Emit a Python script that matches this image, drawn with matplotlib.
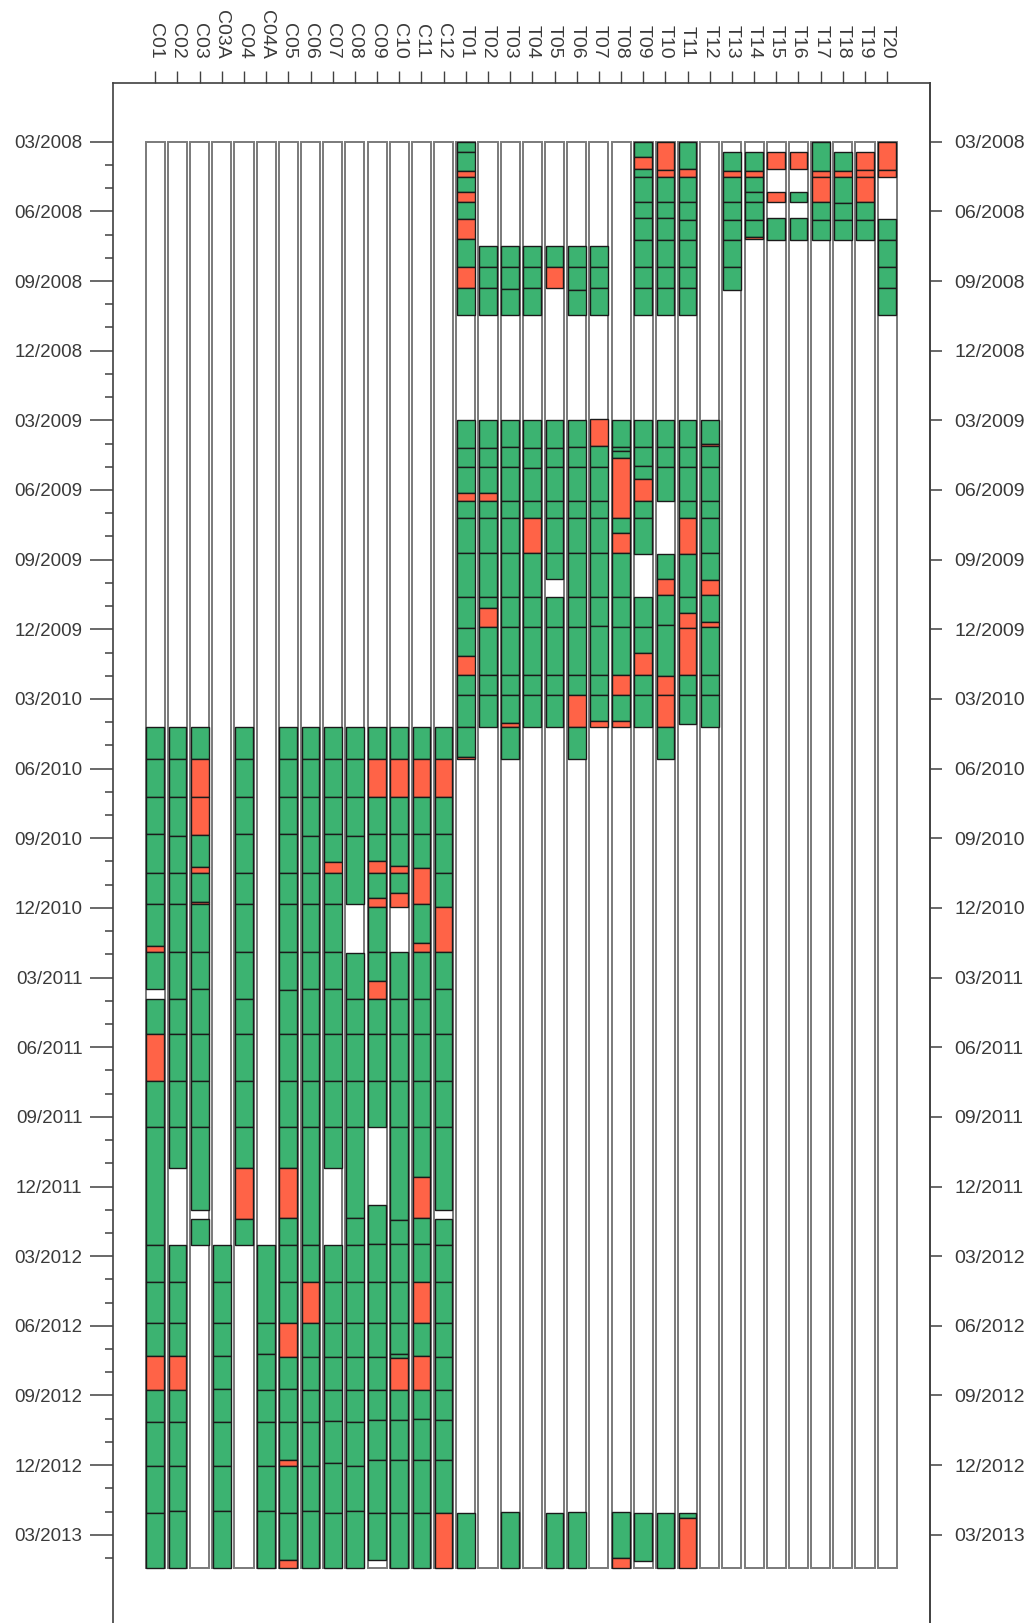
import numpy as np
import matplotlib.pyplot as plt
from matplotlib.ticker import FixedLocator

plt.rcParams['font.family'] = ['Liberation Sans', 'DejaVu Sans']

# time axis: months counted from 03/2008 (top of the chart)
tick_labels = ['03/2008', '06/2008', '09/2008', '12/2008',
               '03/2009', '06/2009', '09/2009', '12/2009',
               '03/2010', '06/2010', '09/2010', '12/2010',
               '03/2011', '06/2011', '09/2011', '12/2011',
               '03/2012', '06/2012', '09/2012', '12/2012', '03/2013']
bar_end = 61.44

columns = ['C01', 'C02', 'C03', 'C03A', 'C04', 'C04A', 'C05', 'C06', 'C07',
           'C08', 'C09', 'C10', 'C11', 'C12',
           'T01', 'T02', 'T03', 'T04', 'T05', 'T06', 'T07', 'T08', 'T09', 'T10',
           'T11', 'T12', 'T13', 'T14', 'T15', 'T16', 'T17', 'T18', 'T19', 'T20']

# segment boundaries (months) and state per segment: g=ok, r=problem, w=no data
C01_edges = [25.22, 26.6, 28.21, 29.83, 31.48, 32.84, 34.62, 34.91, 36.5, 36.93, 38.44,
             40.44, 42.42, 47.52, 49.12, 50.89, 52.3, 53.76, 55.16, 57.03, 59.07, 61.44]
C01_codes = 'ggggggrgwgrgggggrgggg'
C02_edges = [25.22, 26.6, 28.21, 29.9, 31.48, 32.84, 34.91, 36.93, 38.44, 40.44, 42.42,
             44.21, 47.52, 49.12, 50.89, 52.3, 53.76, 55.16, 57.03, 58.97, 61.44]
C02_codes = 'gggggggggggwgggrgggg'
C03_edges = [25.22, 26.6, 28.21, 29.88, 31.22, 31.5, 32.73, 32.84, 34.91, 36.5, 38.44,
             40.44, 42.42, 46.01, 46.39, 47.52]
C03_codes = 'grrgrgrggggggwg'
C03A_edges = [47.52, 49.12, 50.89, 52.3, 53.7, 55.16, 57.03, 58.97, 61.44]
C03A_codes = 'gggggggg'
C04_edges = [25.22, 26.6, 28.21, 29.83, 31.48, 32.84, 34.91, 36.93, 38.44, 40.44, 42.42,
             44.21, 46.39, 47.52]
C04_codes = 'gggggggggggrg'
C04A_edges = [47.52, 50.89, 52.23, 53.76, 55.16, 57.03, 58.97, 61.44]
C04A_codes = 'ggggggg'
C05_edges = [25.22, 26.6, 28.21, 29.83, 31.48, 32.84, 34.91, 36.52, 38.44, 40.44, 42.42,
             44.21, 46.37, 47.52, 49.12, 50.89, 52.35, 53.7, 55.16, 56.77, 57.03, 59.07,
             61.08, 61.44]
C05_codes = 'gggggggggggrgggrgggrggr'
C06_edges = [25.22, 26.6, 28.21, 29.9, 31.48, 32.84, 34.91, 36.5, 38.44, 40.44, 42.42,
             47.52, 49.12, 50.89, 52.35, 53.76, 55.16, 57.03, 58.97, 61.44]
C06_codes = 'ggggggggggggrgggggg'
C07_edges = [25.22, 26.6, 28.21, 29.83, 31.03, 31.48, 32.84, 34.91, 36.5, 38.44, 40.44,
             42.42, 44.21, 47.52, 49.12, 50.89, 52.35, 53.76, 55.1, 56.9, 59.07, 61.44]
C07_codes = 'ggggrgggggggwgggggggg'
C08_edges = [25.22, 26.6, 28.21, 29.9, 32.84, 34.95, 36.93, 38.44, 40.44, 42.42, 46.37,
             47.52, 49.12, 50.89, 52.35, 53.76, 55.16, 57.03, 58.97, 61.44]
C08_codes = 'ggggwgggggggggggggg'
C09_edges = [25.22, 26.6, 28.21, 29.83, 30.97, 31.48, 32.58, 32.95, 34.91, 36.14, 36.93,
             38.44, 40.44, 42.42, 45.8, 47.47, 49.12, 50.89, 52.35, 53.76, 55.05, 56.77,
             59.07, 61.08, 61.44]
C09_codes = 'grggrgrggrgggwgggggggggw'
C10_edges = [25.22, 26.6, 28.21, 29.83, 31.2, 31.48, 32.37, 32.95, 34.91, 36.93, 38.44,
             40.44, 42.42, 46.45, 47.47, 49.12, 50.89, 52.2, 52.4, 53.76, 55.05, 56.77,
             59.07, 61.44]
C10_codes = 'grggrgrwggggggggggrgggg'
C11_edges = [25.22, 26.6, 28.21, 29.83, 31.3, 32.84, 34.52, 34.91, 36.93, 38.44, 40.44,
             42.42, 44.57, 46.37, 47.47, 49.12, 50.89, 52.3, 53.76, 55.0, 56.77, 59.07, 61.44]
C11_codes = 'grggrgrgggggrggrgrgggg'
C12_edges = [25.22, 26.6, 28.21, 29.83, 31.48, 32.95, 34.91, 36.5, 38.44, 40.44, 42.42,
             46.01, 46.39, 47.52, 49.12, 50.89, 52.35, 53.76, 55.05, 56.77, 59.07, 61.44]
C12_codes = 'grgggrgggggwggggggggr'

T01_edges = [0, 0.45, 1.25, 1.51, 2.15, 2.58, 3.32, 4.19, 5.4, 6.31, 7.46, 11.97, 13.17,
             14.0, 15.14, 15.46, 16.22, 17.73, 19.59, 20.96, 22.15, 22.97, 23.83, 25.2,
             26.49, 26.6, 59.07, 61.44]
T01_codes = 'ggrgrgrgrgwgggrgggggrgggrwg'
T02_edges = [4.49, 5.38, 6.31, 7.46, 11.97, 13.17, 14.0, 15.14, 15.46, 16.22, 17.73,
             19.62, 20.09, 20.89, 22.97, 23.83, 25.2]
T02_codes = 'gggwgggrggggrggg'
T03_edges = [4.49, 5.38, 6.36, 7.46, 11.97, 13.14, 14.0, 15.46, 16.22, 17.73, 19.62,
             20.89, 22.97, 23.83, 25.03, 25.22, 26.6, 59.0, 61.44]
T03_codes = 'gggwggggggggggrgwg'
T04_edges = [4.49, 5.38, 6.31, 7.46, 11.97, 13.17, 14.04, 15.46, 16.22, 17.73, 19.62,
             20.89, 22.97, 23.83, 25.2]
T04_codes = 'gggwggggrggggg'
T05_edges = [4.49, 5.4, 6.31, 11.97, 13.18, 14.0, 15.46, 16.22, 17.73, 18.84, 19.59,
             20.89, 22.97, 23.83, 25.2, 59.07, 61.44]
T05_codes = 'grwggggggwggggwg'
T06_edges = [4.49, 5.38, 6.38, 7.46, 11.97, 13.14, 14.0, 15.46, 16.22, 17.73, 19.62,
             20.89, 22.97, 23.83, 25.22, 26.6, 59.0, 61.44]
T06_codes = 'gggwgggggggggrgwg'
T07_edges = [4.49, 5.38, 6.31, 7.46, 11.95, 13.1, 14.0, 15.46, 16.22, 17.73, 19.62,
             20.85, 22.97, 23.83, 24.95, 25.2]
T07_codes = 'gggwrgggggggggr'
T08_edges = [11.97, 13.14, 13.3, 13.63, 16.22, 16.84, 17.73, 19.62, 20.89, 22.97, 23.83,
             24.95, 25.2, 59.0, 61.0, 61.44]
T08_codes = 'gggrgrgggrgrwgr'
T09_edges = [0, 0.67, 1.19, 1.51, 2.58, 3.3, 4.23, 5.38, 6.31, 7.46, 11.97, 13.14, 13.98,
             14.54, 15.46, 16.22, 17.75, 19.59, 20.89, 22.0, 22.97, 23.83, 25.2, 59.07, 61.12]
T09_codes = 'grgggggggwgggrggwggrggwg'
T10_edges = [0, 1.2, 1.51, 2.58, 3.3, 4.23, 5.38, 6.31, 7.46, 11.97, 13.14, 14.0, 15.46,
             17.75, 18.84, 19.54, 20.8, 22.99, 23.85, 25.22, 26.6, 59.07, 61.44]
T10_codes = 'rrggggggwgggwgrggrrgwg'
T11_edges = [0, 1.19, 1.51, 2.58, 3.37, 4.23, 5.38, 6.31, 7.46, 11.97, 13.14, 14.0, 15.46,
             16.22, 17.75, 19.59, 20.31, 20.93, 22.97, 23.83, 25.1, 59.07, 59.29, 61.44]
T11_codes = 'grggggggwggggrggrrggwgr'
T12_edges = [11.97, 13.02, 13.1, 14.0, 15.46, 16.22, 17.73, 18.86, 19.54, 20.67, 20.89,
             22.97, 23.83, 25.2]
T12_codes = 'grgggggrgrggg'
T13_edges = [0.45, 1.25, 1.51, 2.58, 3.35, 4.23, 5.38, 6.38]
T13_codes = 'grggggg'
T14_edges = [0.45, 1.25, 1.51, 2.15, 2.58, 3.35, 4.09, 4.2]
T14_codes = 'grggggr'
T15_edges = [0.45, 1.19, 2.15, 2.58, 3.3, 4.23]
T15_codes = 'rwrwg'
T16_edges = [0.45, 1.19, 2.15, 2.58, 3.3, 4.23]
T16_codes = 'rwgwg'
T17_edges = [0, 1.25, 1.51, 2.58, 3.35, 4.23]
T17_codes = 'grrgg'
T18_edges = [0.45, 1.25, 1.51, 2.65, 3.35, 4.23]
T18_codes = 'grggg'
T19_edges = [0.45, 1.2, 1.51, 2.58, 3.35, 4.23]
T19_codes = 'rrrgg'
T20_edges = [0, 1.2, 1.51, 3.32, 4.23, 5.38, 6.31, 7.46]
T20_codes = 'rrwgggg'

data = {name: (globals()[name + '_edges'], globals()[name + '_codes']) for name in columns}
colors = {'g': '#3cb371', 'r': '#ff6347'}

fig = plt.figure(figsize=(10.34, 16.23), dpi=100)
ax = fig.add_axes([113 / 1034, 0, 817 / 1034, 1540 / 1623])

x = np.arange(len(columns))
# empty frame for every column
ax.bar(x, bar_end, bottom=0, width=0.86, color='white', edgecolor='#7a7a7a',
       linewidth=1.4, zorder=1)

for i, name in enumerate(columns):
    edges, codes = data[name]
    for k, c in enumerate(codes):
        if c == 'w':
            continue
        ax.bar(i, edges[k + 1] - edges[k], bottom=edges[k], width=0.8,
               color=colors[c], edgecolor='#1a1a1a', linewidth=1.0, zorder=2)

ax.set_xlim(-1.907, 34.93)
ax.set_ylim(63.8, -2.53)

txt = '#3a3a3a'
for s in ['left', 'right', 'top']:
    ax.spines[s].set_color('#404040')
    ax.spines[s].set_linewidth(1.2)
ax.spines['bottom'].set_visible(False)

# top: column names
ax.xaxis.tick_top()
ax.set_xticks(x)
ax.set_xticklabels(columns, rotation=-90, fontsize=14, color=txt)
ax.tick_params(axis='x', which='major', direction='out', length=8.6, width=1.0,
               pad=9, colors='#404040', labelcolor=txt, bottom=False)

# left: dates with monthly minor ticks
major = np.arange(0, 61, 3)
ax.set_yticks(major)
ax.set_yticklabels(tick_labels, fontsize=13.5, color=txt)
ax.yaxis.set_minor_locator(FixedLocator(np.arange(0, 62, 1)))
ax.tick_params(axis='y', which='major', direction='out', length=16.5, width=1.1,
               pad=5.5, colors='#404040', labelcolor=txt)
ax.tick_params(axis='y', which='minor', direction='out', length=5.8, width=1.1,
               colors='#404040')

# right: dates, major ticks only
sec = ax.secondary_yaxis('right')
sec.set_yticks(major)
sec.set_yticklabels(tick_labels, fontsize=14, color=txt)
sec.tick_params(axis='y', direction='out', length=8.6, width=1.1, pad=9,
                colors='#404040', labelcolor=txt)
sec.spines['right'].set_color('#404040')
sec.spines['right'].set_linewidth(1.2)

fig.savefig('out.png', dpi=100)
